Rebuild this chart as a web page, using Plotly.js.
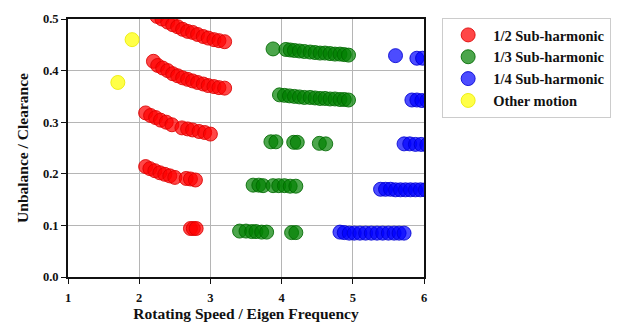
<!DOCTYPE html>
<html>
<head>
<meta charset="utf-8">
<script src="https://cdn.plot.ly/plotly-3.0.1.min.js"></script>
<style>body{margin:0;background:#fff}#chart{width:632px;height:322px}</style>
</head>
<body>
<div id="chart"></div>
<script>
// 1/2 Sub-harmonic
const halfX = [2.25,2.32,2.40,2.47,2.54,2.61,2.68,2.75,2.82,2.90,2.97,3.05,3.12,3.20,
  2.20,2.26,2.33,2.40,2.47,2.54,2.61,2.68,2.75,2.82,2.90,2.97,3.05,3.12,3.20,
  2.09,2.16,2.23,2.30,2.38,2.46,2.60,2.68,2.75,2.84,2.92,3.00,
  2.09,2.15,2.22,2.29,2.36,2.43,2.50,2.66,2.72,2.79,
  2.72,2.76,2.80];
const halfY = [0.505,0.500,0.494,0.489,0.485,0.480,0.476,0.474,0.470,0.466,0.463,0.460,0.458,0.456,
  0.418,0.410,0.405,0.400,0.394,0.390,0.386,0.383,0.380,0.377,0.374,0.371,0.369,0.367,0.366,
  0.318,0.313,0.309,0.304,0.300,0.295,0.289,0.287,0.285,0.282,0.280,0.277,
  0.214,0.210,0.206,0.202,0.199,0.196,0.193,0.191,0.190,0.188,
  0.094,0.094,0.094];
// 1/3 Sub-harmonic
const thirdX = [3.88,4.06,4.12,4.18,4.25,4.32,4.40,4.47,4.54,4.61,4.68,4.75,4.82,4.88,4.94,
  3.97,4.04,4.11,4.18,4.25,4.32,4.40,4.47,4.54,4.61,4.68,4.75,4.82,4.88,4.94,
  3.85,3.92,4.17,4.22,4.53,4.62,
  3.60,3.68,3.74,3.88,3.96,4.04,4.12,4.20,
  3.41,3.50,3.58,3.64,3.72,3.79,4.14,4.20];
const thirdY = [0.442,0.441,0.440,0.439,0.438,0.437,0.436,0.435,0.434,0.434,0.433,0.432,0.432,0.431,0.430,
  0.353,0.352,0.351,0.350,0.349,0.348,0.348,0.347,0.346,0.346,0.345,0.345,0.344,0.344,0.343,
  0.262,0.262,0.261,0.261,0.259,0.258,
  0.178,0.178,0.177,0.177,0.177,0.177,0.176,0.176,
  0.089,0.089,0.088,0.088,0.087,0.087,0.086,0.086];
// 1/4 Sub-harmonic
const quarterX = [5.60,5.90,5.98,
  5.83,5.90,5.97,6.04,
  5.72,5.80,5.88,5.96,6.04,
  5.39,5.46,5.53,5.60,5.67,5.74,5.81,5.88,5.95,6.02,
  4.82,4.88,4.95,5.02,5.10,5.18,5.26,5.34,5.42,5.50,5.58,5.65,5.72];
const quarterY = [0.429,0.424,0.424,
  0.343,0.343,0.342,0.342,
  0.258,0.258,0.257,0.257,0.256,
  0.170,0.170,0.170,0.169,0.169,0.169,0.169,0.169,0.169,0.169,
  0.087,0.086,0.085,0.085,0.085,0.085,0.085,0.085,0.085,0.085,0.085,0.085,0.085];
// Other motion
const otherX = [1.90,1.70];
const otherY = [0.460,0.377];

const names = ['1/2 Sub-harmonic','1/3 Sub-harmonic','1/4 Sub-harmonic','Other motion'];
const xTicks = [1,2,3,4,5,6];
const yTicks = [0.0,0.1,0.2,0.3,0.4,0.5];

function tr(x,y,name,fill,edge){
  return {x:x,y:y,name:name,type:'scatter',mode:'markers',cliponaxis:true,
    marker:{size:14,color:fill,line:{color:edge,width:1}}};
}
const data = [
  tr(halfX,halfY,names[0],'rgba(255,0,0,0.72)','rgba(220,0,0,0.85)'),
  tr(thirdX,thirdY,names[1],'rgba(0,128,0,0.7)','rgba(0,105,0,0.85)'),
  tr(quarterX,quarterY,names[2],'rgba(0,0,255,0.7)','rgba(0,0,210,0.85)'),
  tr(otherX,otherY,names[3],'rgba(255,255,0,0.72)','rgba(235,235,0,0.85)')
];
const serif = 'Liberation Serif, Times New Roman, serif';
const tickFont = {family:serif,size:12.5,color:'#111',weight:700};
const titleFont = {family:serif,size:15.5,color:'#111',weight:700};
const layout = {
  width:632,height:322,
  margin:{l:68,r:208,t:19,b:45},
  paper_bgcolor:'#fff',plot_bgcolor:'#fff',
  showlegend:true,
  legend:{x:1.051,y:1.004,xanchor:'left',yanchor:'top',bordercolor:'#cccccc',borderwidth:1,
    itemwidth:40,
    font:{family:serif,size:14.5,color:'#111',weight:700},
    bgcolor:'#fff'},
  xaxis:{range:[1,6],tickvals:xTicks,ticktext:xTicks.map(String),showgrid:true,gridcolor:'#b5b5b5',gridwidth:1,
    zeroline:false,showline:true,linecolor:'#111',linewidth:2,mirror:true,ticks:'outside',ticklen:5,tickcolor:'#111',
    ticklabelstandoff:3,
    tickfont:tickFont,
    title:{text:'Rotating Speed / Eigen Frequency',standoff:5,font:titleFont}},
  yaxis:{range:[0,0.5],tickvals:yTicks,ticktext:yTicks.map(v=>v.toFixed(1)),showgrid:true,gridcolor:'#b5b5b5',gridwidth:1,
    zeroline:false,showline:true,linecolor:'#111',linewidth:2,mirror:true,ticks:'outside',ticklen:5,tickcolor:'#111',
    tickfont:tickFont,
    title:{text:'Unbalance / Clearance',standoff:10,font:titleFont}}
};
Plotly.newPlot('chart',data,layout,{staticPlot:true,displayModeBar:false});
</script>
</body>
</html>
